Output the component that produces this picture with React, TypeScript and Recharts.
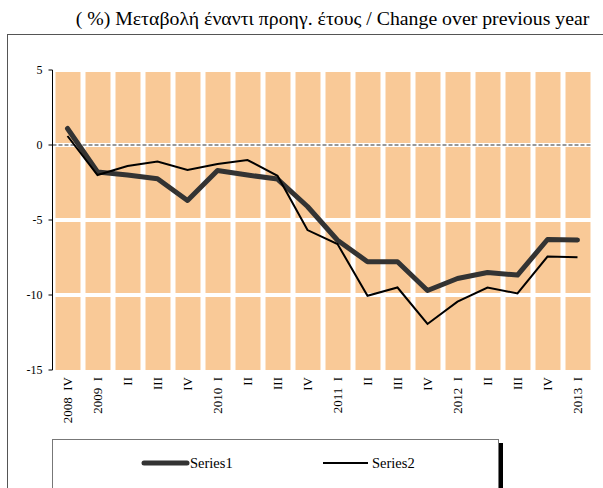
import React from "react";
import { ComposedChart, Bar, Line, XAxis, YAxis, ReferenceLine } from "recharts";

const categories = ["2008\u00A0\u00A0IV", "2009\u00A0\u00A0I", "II", "III", "IV", "2010\u00A0\u00A0I", "II", "III", "IV", "2011\u00A0\u00A0I", "II", "III", "IV", "2012\u00A0\u00A0I", "II", "III", "IV", "2013\u00A0\u00A0I"];
const series1 = [1.1, -1.8, -2.0, -2.25, -3.7, -1.7, -2.0, -2.27, -4.1, -6.35, -7.78, -7.78, -9.7, -8.9, -8.5, -8.67, -6.3, -6.33];
const series2 = [0.6, -2.0, -1.4, -1.1, -1.67, -1.27, -1.0, -2.05, -5.67, -6.6, -10.05, -9.5, -11.93, -10.44, -9.5, -9.9, -7.44, -7.49];
const yTicks = [-15, -10, -5, 0, 5];
const bgRange = [-15, 5];

const data = categories.map((c, i) => ({
  label: c,
  s1: series1[i],
  s2: series2[i],
  bg: bgRange,
}));

const FONT = "'Liberation Serif', 'Times New Roman', serif";

const XTick = (props: any) => {
  const { x, y, payload } = props;
  return (
    <g transform={`translate(${x},${y - 1}) rotate(-90)`}>
      <text x={0} y={0} dy="0.36em" textAnchor="end" fontSize={13} fontFamily={FONT} fill="#000">
        {payload.value}
      </text>
    </g>
  );
};

const YTick = (props: any) => {
  const { x, y, payload } = props;
  return (
    <text x={x - 4} y={y} dy="0.36em" textAnchor="end" fontSize={12} fontFamily={FONT} fill="#000">
      {payload.value}
    </text>
  );
};

export default function App() {
  return (
    <div style={{ position: "absolute", left: 0, top: 0, width: 603, height: 488, background: "#fff", overflow: "hidden" }}>
      <div
        style={{
          position: "absolute",
          left: 0,
          width: 665,
          top: 7,
          textAlign: "center",
          fontFamily: FONT,
          fontSize: 19.8,
          lineHeight: "23px",
          color: "#000",
          whiteSpace: "nowrap",
        }}
      >
        ( %) Μεταβολή έναντι προηγ. έτους / Change over previous year
      </div>
      <div
        style={{
          position: "absolute",
          left: 7,
          top: 34,
          width: 640,
          height: 500,
          borderLeft: "1px solid #555",
          borderTop: "1px solid #555",
        }}
      />
      <div style={{ position: "absolute", left: 0, top: 0 }}>
        <ComposedChart
          width={603}
          height={488}
          data={data}
          margin={{ top: 70, right: 10.5, bottom: 58, left: 0 }}
          barCategoryGap={5}
        >
          <XAxis
            dataKey="label"
            height={60}
            axisLine={false}
            tickLine={false}
            interval={0}
            tick={<XTick />}
          />
          <YAxis
            width={52.5}
            domain={[-15, 5]}
            ticks={yTicks}
            interval={0}
            axisLine={{ stroke: "#000", strokeWidth: 1 }}
            tickLine={{ stroke: "#000" }}
            tickSize={4}
            tick={<YTick />}
          />
          <Bar dataKey="bg" fill="#F9C997" barSize={25} isAnimationActive={false} />
          <ReferenceLine y={5} stroke="#fff" strokeWidth={4} />
          <ReferenceLine y={-5} stroke="#fff" strokeWidth={4} />
          <ReferenceLine y={-10} stroke="#fff" strokeWidth={4} />
          <ReferenceLine y={0} stroke="#fff" strokeWidth={4} />
          <ReferenceLine y={0} stroke="#777" strokeWidth={1.5} strokeDasharray="4 2" />
          <Line
            dataKey="s1"
            stroke="#333"
            strokeWidth={5}
            dot={false}
            isAnimationActive={false}
            strokeLinejoin="round"
            strokeLinecap="round"
          />
          <Line
            dataKey="s2"
            stroke="#000"
            strokeWidth={2}
            dot={false}
            isAnimationActive={false}
          />
        </ComposedChart>
      </div>
      <div
        style={{
          position: "absolute",
          left: 52,
          top: 439,
          width: 445,
          height: 80,
          border: "1px solid #777",
          boxShadow: "4px 4px 0 #000",
          background: "#fff",
        }}
      >
        <svg width={445} height={50} style={{ position: "absolute", left: 0, top: 0 }}>
          <line x1={91} y1={23} x2={134} y2={23} stroke="#333" strokeWidth={5} strokeLinecap="round" />
          <text x={137} y={23} dy="0.35em" fontSize={14.5} fontFamily={FONT} fill="#000">Series1</text>
          <line x1={270} y1={23} x2={315} y2={23} stroke="#000" strokeWidth={2} />
          <text x={319} y={23} dy="0.35em" fontSize={14.5} fontFamily={FONT} fill="#000">Series2</text>
        </svg>
      </div>
    </div>
  );
}
